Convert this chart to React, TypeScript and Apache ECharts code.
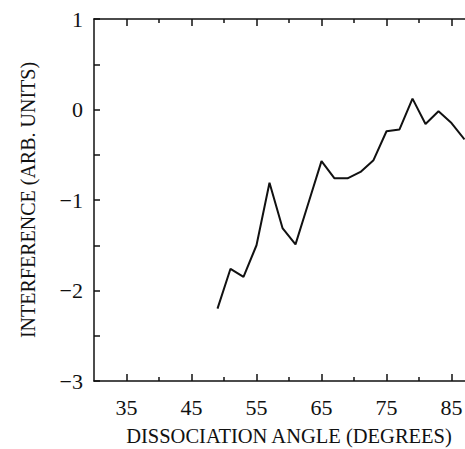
import React, { useEffect, useRef } from "react";
import * as echarts from "echarts";

const angles = [49, 51, 53, 55, 57, 59, 61, 63, 65, 67, 69, 71, 73, 75, 77, 79, 81, 83, 85, 87];
const interference = [-2.2, -1.76, -1.85, -1.5, -0.81, -1.31, -1.49, -1.03, -0.57, -0.76, -0.76, -0.69, -0.56, -0.24, -0.22, 0.12, -0.16, -0.02, -0.15, -0.33];

const xMajorTicks = [35, 45, 55, 65, 75, 85];
const xMinorTicks = [40, 50, 60, 70, 80];
const yLabelTicks = [-3, -2, -1, 0, 1];
const yTicks = [-3, -2.5, -2, -1.5, -1, -0.5, 0, 0.5, 1];

const FONT = "Liberation Serif";

export default function App() {
  const ref = useRef<HTMLDivElement>(null);
  useEffect(() => {
    if (!ref.current) return;
    const chart = echarts.init(ref.current, null, { renderer: "svg" });
    const lineStyle = { color: "#111", width: 1.5 };
    const baseX = {
      type: "value" as const,
      min: 30,
      max: 90,
      gridIndex: 0,
      splitLine: { show: false },
    };
    chart.setOption({
      animation: false,
      backgroundColor: "#fff",
      grid: { left: 94, top: 19, width: 390, height: 362, outerBoundsMode: "none", containLabel: false },
      xAxis: [
        {
          ...baseX,
          position: "bottom",
          name: "DISSOCIATION ANGLE (DEGREES)",
          nameLocation: "middle",
          nameGap: 44,
          nameTextStyle: { fontFamily: FONT, fontSize: 20.5, color: "#111" },
          axisLine: { show: true, onZero: false, lineStyle },
          axisTick: { show: true, inside: true, length: 7, customValues: xMajorTicks, lineStyle },
          axisLabel: { show: true, customValues: xMajorTicks, margin: 15, fontFamily: FONT, fontSize: 22, color: "#111" },
        },
        {
          ...baseX,
          position: "bottom",
          axisLine: { show: false, onZero: false },
          axisTick: { show: true, inside: true, length: 4, customValues: xMinorTicks, lineStyle },
          axisLabel: { show: false },
        },
        {
          ...baseX,
          position: "top",
          axisLine: { show: true, onZero: false, lineStyle },
          axisTick: { show: true, inside: true, length: 7, customValues: xMajorTicks, lineStyle },
          axisLabel: { show: false },
        },
        {
          ...baseX,
          position: "top",
          axisLine: { show: false, onZero: false },
          axisTick: { show: true, inside: true, length: 4, customValues: xMinorTicks, lineStyle },
          axisLabel: { show: false },
        },
      ],
      yAxis: {
        type: "value",
        min: -3,
        max: 1,
        interval: 0.5,
        position: "left",
        name: "INTERFERENCE (ARB. UNITS)",
        nameLocation: "middle",
        nameGap: 56,
        nameTextStyle: { fontFamily: FONT, fontSize: 20, color: "#111" },
        splitLine: { show: false },
        axisLine: { show: true, onZero: false, lineStyle },
        axisTick: { show: true, inside: true, length: 6, customValues: yTicks, lineStyle },
        axisLabel: {
          show: true,
          customValues: yLabelTicks,
          margin: 11,
          fontFamily: FONT,
          fontSize: 22,
          color: "#111",
          formatter: (v: number) => (v < 0 ? "\u2212" + Math.abs(v) : String(v)),
        },
      },
      series: [
        {
          type: "line",
          xAxisIndex: 0,
          data: angles.map((a, i) => [a, interference[i]]),
          showSymbol: false,
          symbol: "none",
          lineStyle: { color: "#111", width: 2 },
        },
      ],
    });
    return () => chart.dispose();
  }, []);
  return <div ref={ref} style={{ position: "fixed", left: 0, top: 0, width: 465, height: 449 }} />;
}
